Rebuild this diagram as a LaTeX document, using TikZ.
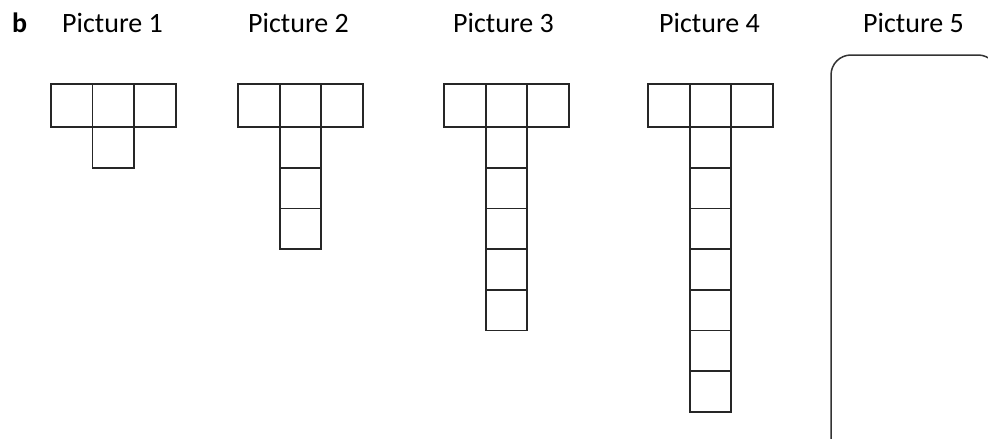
\documentclass[tikz,border=0pt]{standalone}
\usepackage{fontspec}
\setmainfont{Carlito}
\usepackage{tikz}
\usetikzlibrary{positioning}

\begin{document}
\begin{tikzpicture}[
  x=1pt, y=-1pt,
  cell/.style={draw=black!85, line width=1.8pt},
  pictitle/.style={anchor=base west, inner sep=0pt, font=\fontsize{28}{32}\selectfont},
  answerbox/.style={draw=black!80, line width=1.5pt, rounded corners=20pt}
]
\useasboundingbox (0,0) rectangle (988,439);
\clip (0,0) rectangle (988,439);
% part letter
\node[pictitle, font=\fontsize{28}{32}\selectfont\bfseries] (part) at (12,32) {b};
% pictures 1 to 4: a row of three cells with a stem below
\foreach \k/\px/\tx in {1/50.7/62, 2/238/248, 3/444/453, 4/648/659} {
  \node[pictitle] (title\k) at (\tx,32) {Picture \k};
  \draw[cell] (\px,84) rectangle ++(125,43);
  \draw[cell] (\px+41.7,84) -- ++(0,43);
  \draw[cell] (\px+83.3,84) -- ++(0,43);
  \pgfmathtruncatemacro{\n}{2*\k-1}
  \foreach \i in {1,...,\n}
    \draw[cell] (\px+41.7,127+40.7*\i-40.7) rectangle ++(41.6,40.7);
}
% picture 5 is left empty
\node[pictitle] (title5) at (863,32) {Picture 5};
\draw[answerbox] (831,55) rectangle (998,470);
\end{tikzpicture}
\end{document}
